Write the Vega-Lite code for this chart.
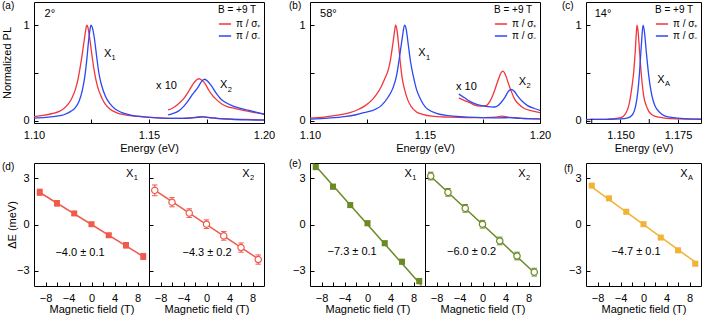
{
"$schema": "https://vega.github.io/schema/vega-lite/v6.json",
"background": "white",
"padding": {"left": 0, "top": 0, "right": 0, "bottom": 0},
"config": {
  "font": "Liberation Sans",
  "view": {"stroke": "black", "strokeWidth": 1},
  "axis": {"domain": false, "grid": false, "tickSize": -4, "tickColor": "black", "tickWidth": 1, "labelFontSize": 11, "labelColor": "black", "titleFontSize": 11, "titleFontWeight": "normal", "titleColor": "black", "labelOverlap": false},
  "axisX": {"labelPadding": 10.5},
  "axisY": {"labelPadding": 9},
  "title": {"fontSize": 10, "fontWeight": "normal", "anchor": "start", "frame": "group", "color": "black"},
  "legend": {"orient": "top-right", "offset": 3, "padding": 0, "titleFontWeight": "normal", "titleFontSize": 10, "labelFontSize": 10, "titleColor": "black", "labelColor": "black", "symbolType": "stroke", "symbolStrokeWidth": 1.5, "symbolSize": 150, "rowPadding": 0, "titlePadding": 2, "labelOffset": 4}
},
"datasets": {
  "sa": [
    {"p":"π / σ₊","k":"m","E":1.100,"I":0.045},{"p":"π / σ₊","k":"m","E":1.104,"I":0.058},{"p":"π / σ₊","k":"m","E":1.108,"I":0.078},{"p":"π / σ₊","k":"m","E":1.111,"I":0.10},{"p":"π / σ₊","k":"m","E":1.113,"I":0.13},{"p":"π / σ₊","k":"m","E":1.115,"I":0.18},{"p":"π / σ₊","k":"m","E":1.1165,"I":0.24},{"p":"π / σ₊","k":"m","E":1.118,"I":0.33},{"p":"π / σ₊","k":"m","E":1.119,"I":0.42},{"p":"π / σ₊","k":"m","E":1.120,"I":0.55},{"p":"π / σ₊","k":"m","E":1.121,"I":0.70},{"p":"π / σ₊","k":"m","E":1.122,"I":0.87},{"p":"π / σ₊","k":"m","E":1.1225,"I":0.95},{"p":"π / σ₊","k":"m","E":1.1229,"I":1.0},{"p":"π / σ₊","k":"m","E":1.1234,"I":0.98},{"p":"π / σ₊","k":"m","E":1.124,"I":0.90},{"p":"π / σ₊","k":"m","E":1.125,"I":0.72},{"p":"π / σ₊","k":"m","E":1.126,"I":0.55},{"p":"π / σ₊","k":"m","E":1.127,"I":0.42},{"p":"π / σ₊","k":"m","E":1.128,"I":0.33},{"p":"π / σ₊","k":"m","E":1.1295,"I":0.24},{"p":"π / σ₊","k":"m","E":1.131,"I":0.175},{"p":"π / σ₊","k":"m","E":1.133,"I":0.125},{"p":"π / σ₊","k":"m","E":1.136,"I":0.085},{"p":"π / σ₊","k":"m","E":1.140,"I":0.062},{"p":"π / σ₊","k":"m","E":1.145,"I":0.047},{"p":"π / σ₊","k":"m","E":1.150,"I":0.037},{"p":"π / σ₊","k":"m","E":1.156,"I":0.030},{"p":"π / σ₊","k":"m","E":1.162,"I":0.027},{"p":"π / σ₊","k":"m","E":1.167,"I":0.030},{"p":"π / σ₊","k":"m","E":1.1705,"I":0.040},{"p":"π / σ₊","k":"m","E":1.1725,"I":0.045},{"p":"π / σ₊","k":"m","E":1.1755,"I":0.038},{"p":"π / σ₊","k":"m","E":1.179,"I":0.028},{"p":"π / σ₊","k":"m","E":1.185,"I":0.020},{"p":"π / σ₊","k":"m","E":1.192,"I":0.016},{"p":"π / σ₊","k":"m","E":1.200,"I":0.012},
    {"p":"π / σ₋","k":"m","E":1.100,"I":0.030},{"p":"π / σ₋","k":"m","E":1.105,"I":0.038},{"p":"π / σ₋","k":"m","E":1.110,"I":0.050},{"p":"π / σ₋","k":"m","E":1.113,"I":0.065},{"p":"π / σ₋","k":"m","E":1.116,"I":0.10},{"p":"π / σ₋","k":"m","E":1.118,"I":0.14},{"p":"π / σ₋","k":"m","E":1.1195,"I":0.20},{"p":"π / σ₋","k":"m","E":1.121,"I":0.32},{"p":"π / σ₋","k":"m","E":1.122,"I":0.45},{"p":"π / σ₋","k":"m","E":1.123,"I":0.65},{"p":"π / σ₋","k":"m","E":1.1238,"I":0.85},{"p":"π / σ₋","k":"m","E":1.1244,"I":0.96},{"p":"π / σ₋","k":"m","E":1.1248,"I":1.0},{"p":"π / σ₋","k":"m","E":1.1254,"I":0.97},{"p":"π / σ₋","k":"m","E":1.1262,"I":0.87},{"p":"π / σ₋","k":"m","E":1.1272,"I":0.68},{"p":"π / σ₋","k":"m","E":1.1282,"I":0.50},{"p":"π / σ₋","k":"m","E":1.1293,"I":0.38},{"p":"π / σ₋","k":"m","E":1.131,"I":0.26},{"p":"π / σ₋","k":"m","E":1.133,"I":0.18},{"p":"π / σ₋","k":"m","E":1.135,"I":0.13},{"p":"π / σ₋","k":"m","E":1.138,"I":0.09},{"p":"π / σ₋","k":"m","E":1.142,"I":0.062},{"p":"π / σ₋","k":"m","E":1.147,"I":0.045},{"p":"π / σ₋","k":"m","E":1.152,"I":0.035},{"p":"π / σ₋","k":"m","E":1.158,"I":0.028},{"p":"π / σ₋","k":"m","E":1.165,"I":0.027},{"p":"π / σ₋","k":"m","E":1.170,"I":0.035},{"p":"π / σ₋","k":"m","E":1.1735,"I":0.042},{"p":"π / σ₋","k":"m","E":1.1765,"I":0.036},{"p":"π / σ₋","k":"m","E":1.180,"I":0.027},{"p":"π / σ₋","k":"m","E":1.186,"I":0.018},{"p":"π / σ₋","k":"m","E":1.193,"I":0.012},{"p":"π / σ₋","k":"m","E":1.200,"I":0.008},
    {"p":"π / σ₊","k":"x","E":1.1583,"I":0.115},{"p":"π / σ₊","k":"x","E":1.160,"I":0.13},{"p":"π / σ₊","k":"x","E":1.1626,"I":0.175},{"p":"π / σ₊","k":"x","E":1.165,"I":0.23},{"p":"π / σ₊","k":"x","E":1.167,"I":0.30},{"p":"π / σ₊","k":"x","E":1.169,"I":0.38},{"p":"π / σ₊","k":"x","E":1.1705,"I":0.425},{"p":"π / σ₊","k":"x","E":1.1717,"I":0.44},{"p":"π / σ₊","k":"x","E":1.173,"I":0.425},{"p":"π / σ₊","k":"x","E":1.1745,"I":0.385},{"p":"π / σ₊","k":"x","E":1.176,"I":0.32},{"p":"π / σ₊","k":"x","E":1.1775,"I":0.27},{"p":"π / σ₊","k":"x","E":1.179,"I":0.23},{"p":"π / σ₊","k":"x","E":1.1815,"I":0.18},{"p":"π / σ₊","k":"x","E":1.184,"I":0.15},{"p":"π / σ₊","k":"x","E":1.1875,"I":0.13},{"p":"π / σ₊","k":"x","E":1.191,"I":0.11},{"p":"π / σ₊","k":"x","E":1.1955,"I":0.09},{"p":"π / σ₊","k":"x","E":1.200,"I":0.073},
    {"p":"π / σ₋","k":"x","E":1.1583,"I":0.063},{"p":"π / σ₋","k":"x","E":1.160,"I":0.075},{"p":"π / σ₋","k":"x","E":1.1626,"I":0.10},{"p":"π / σ₋","k":"x","E":1.165,"I":0.15},{"p":"π / σ₋","k":"x","E":1.167,"I":0.21},{"p":"π / σ₋","k":"x","E":1.169,"I":0.28},{"p":"π / σ₋","k":"x","E":1.1713,"I":0.35},{"p":"π / σ₋","k":"x","E":1.1728,"I":0.41},{"p":"π / σ₋","k":"x","E":1.1742,"I":0.435},{"p":"π / σ₋","k":"x","E":1.1755,"I":0.415},{"p":"π / σ₋","k":"x","E":1.177,"I":0.37},{"p":"π / σ₋","k":"x","E":1.1792,"I":0.29},{"p":"π / σ₋","k":"x","E":1.181,"I":0.235},{"p":"π / σ₋","k":"x","E":1.1828,"I":0.20},{"p":"π / σ₋","k":"x","E":1.1872,"I":0.15},{"p":"π / σ₋","k":"x","E":1.1935,"I":0.11},{"p":"π / σ₋","k":"x","E":1.200,"I":0.07}
  ],
  "sb": [
    {"p":"π / σ₊","k":"m","E":1.100,"I":0.03},{"p":"π / σ₊","k":"m","E":1.106,"I":0.04},{"p":"π / σ₊","k":"m","E":1.112,"I":0.06},{"p":"π / σ₊","k":"m","E":1.117,"I":0.085},{"p":"π / σ₊","k":"m","E":1.121,"I":0.12},{"p":"π / σ₊","k":"m","E":1.124,"I":0.16},{"p":"π / σ₊","k":"m","E":1.127,"I":0.22},{"p":"π / σ₊","k":"m","E":1.129,"I":0.28},{"p":"π / σ₊","k":"m","E":1.131,"I":0.36},{"p":"π / σ₊","k":"m","E":1.1325,"I":0.44},{"p":"π / σ₊","k":"m","E":1.134,"I":0.53},{"p":"π / σ₊","k":"m","E":1.135,"I":0.64},{"p":"π / σ₊","k":"m","E":1.136,"I":0.80},{"p":"π / σ₊","k":"m","E":1.1368,"I":0.94},{"p":"π / σ₊","k":"m","E":1.1372,"I":1.0},{"p":"π / σ₊","k":"m","E":1.1378,"I":0.95},{"p":"π / σ₊","k":"m","E":1.1385,"I":0.80},{"p":"π / σ₊","k":"m","E":1.1393,"I":0.60},{"p":"π / σ₊","k":"m","E":1.140,"I":0.46},{"p":"π / σ₊","k":"m","E":1.141,"I":0.34},{"p":"π / σ₊","k":"m","E":1.1425,"I":0.22},{"p":"π / σ₊","k":"m","E":1.144,"I":0.15},{"p":"π / σ₊","k":"m","E":1.146,"I":0.10},{"p":"π / σ₊","k":"m","E":1.149,"I":0.07},{"p":"π / σ₊","k":"m","E":1.153,"I":0.05},{"p":"π / σ₊","k":"m","E":1.160,"I":0.04},{"p":"π / σ₊","k":"m","E":1.168,"I":0.035},{"p":"π / σ₊","k":"m","E":1.176,"I":0.035},{"p":"π / σ₊","k":"m","E":1.181,"I":0.04},{"p":"π / σ₊","k":"m","E":1.1835,"I":0.05},{"p":"π / σ₊","k":"m","E":1.186,"I":0.04},{"p":"π / σ₊","k":"m","E":1.190,"I":0.03},{"p":"π / σ₊","k":"m","E":1.195,"I":0.025},{"p":"π / σ₊","k":"m","E":1.200,"I":0.022},
    {"p":"π / σ₋","k":"m","E":1.100,"I":0.02},{"p":"π / σ₋","k":"m","E":1.108,"I":0.03},{"p":"π / σ₋","k":"m","E":1.115,"I":0.045},{"p":"π / σ₋","k":"m","E":1.120,"I":0.065},{"p":"π / σ₋","k":"m","E":1.124,"I":0.09},{"p":"π / σ₋","k":"m","E":1.1283,"I":0.12},{"p":"π / σ₋","k":"m","E":1.131,"I":0.16},{"p":"π / σ₋","k":"m","E":1.134,"I":0.25},{"p":"π / σ₋","k":"m","E":1.136,"I":0.34},{"p":"π / σ₋","k":"m","E":1.1377,"I":0.48},{"p":"π / σ₋","k":"m","E":1.139,"I":0.68},{"p":"π / σ₋","k":"m","E":1.1402,"I":0.88},{"p":"π / σ₋","k":"m","E":1.1411,"I":1.0},{"p":"π / σ₋","k":"m","E":1.1418,"I":0.96},{"p":"π / σ₋","k":"m","E":1.1427,"I":0.80},{"p":"π / σ₋","k":"m","E":1.1437,"I":0.62},{"p":"π / σ₋","k":"m","E":1.1449,"I":0.47},{"p":"π / σ₋","k":"m","E":1.1463,"I":0.33},{"p":"π / σ₋","k":"m","E":1.1478,"I":0.24},{"p":"π / σ₋","k":"m","E":1.150,"I":0.15},{"p":"π / σ₋","k":"m","E":1.1514,"I":0.12},{"p":"π / σ₋","k":"m","E":1.155,"I":0.08},{"p":"π / σ₋","k":"m","E":1.160,"I":0.055},{"p":"π / σ₋","k":"m","E":1.167,"I":0.042},{"p":"π / σ₋","k":"m","E":1.175,"I":0.035},{"p":"π / σ₋","k":"m","E":1.182,"I":0.032},{"p":"π / σ₋","k":"m","E":1.187,"I":0.035},{"p":"π / σ₋","k":"m","E":1.192,"I":0.028},{"p":"π / σ₋","k":"m","E":1.200,"I":0.022},
    {"p":"π / σ₊","k":"x","E":1.1647,"I":0.24},{"p":"π / σ₊","k":"x","E":1.167,"I":0.215},{"p":"π / σ₊","k":"x","E":1.1695,"I":0.19},{"p":"π / σ₊","k":"x","E":1.1716,"I":0.165},{"p":"π / σ₊","k":"x","E":1.174,"I":0.155},{"p":"π / σ₊","k":"x","E":1.1765,"I":0.16},{"p":"π / σ₊","k":"x","E":1.1781,"I":0.20},{"p":"π / σ₊","k":"x","E":1.180,"I":0.30},{"p":"π / σ₊","k":"x","E":1.1817,"I":0.42},{"p":"π / σ₊","k":"x","E":1.183,"I":0.50},{"p":"π / σ₊","k":"x","E":1.1838,"I":0.52},{"p":"π / σ₊","k":"x","E":1.185,"I":0.48},{"p":"π / σ₊","k":"x","E":1.186,"I":0.41},{"p":"π / σ₊","k":"x","E":1.1875,"I":0.31},{"p":"π / σ₊","k":"x","E":1.1889,"I":0.23},{"p":"π / σ₊","k":"x","E":1.191,"I":0.17},{"p":"π / σ₊","k":"x","E":1.1932,"I":0.13},{"p":"π / σ₊","k":"x","E":1.1965,"I":0.105},{"p":"π / σ₊","k":"x","E":1.200,"I":0.087},
    {"p":"π / σ₋","k":"x","E":1.1647,"I":0.28},{"p":"π / σ₋","k":"x","E":1.167,"I":0.245},{"p":"π / σ₋","k":"x","E":1.1695,"I":0.205},{"p":"π / σ₋","k":"x","E":1.1716,"I":0.18},{"p":"π / σ₋","k":"x","E":1.1745,"I":0.16},{"p":"π / σ₋","k":"x","E":1.1772,"I":0.15},{"p":"π / σ₋","k":"x","E":1.1795,"I":0.145},{"p":"π / σ₋","k":"x","E":1.181,"I":0.15},{"p":"π / σ₋","k":"x","E":1.183,"I":0.19},{"p":"π / σ₋","k":"x","E":1.1846,"I":0.24},{"p":"π / σ₋","k":"x","E":1.186,"I":0.30},{"p":"π / σ₋","k":"x","E":1.1874,"I":0.33},{"p":"π / σ₋","k":"x","E":1.1888,"I":0.31},{"p":"π / σ₋","k":"x","E":1.1903,"I":0.26},{"p":"π / σ₋","k":"x","E":1.1925,"I":0.20},{"p":"π / σ₋","k":"x","E":1.1946,"I":0.16},{"p":"π / σ₋","k":"x","E":1.1975,"I":0.13},{"p":"π / σ₋","k":"x","E":1.200,"I":0.11}
  ],
  "sc": [
    {"p":"π / σ₊","k":"m","E":1.135,"I":0.015},{"p":"π / σ₊","k":"m","E":1.140,"I":0.017},{"p":"π / σ₊","k":"m","E":1.145,"I":0.020},{"p":"π / σ₊","k":"m","E":1.149,"I":0.030},{"p":"π / σ₊","k":"m","E":1.1507,"I":0.040},{"p":"π / σ₊","k":"m","E":1.152,"I":0.070},{"p":"π / σ₊","k":"m","E":1.1536,"I":0.16},{"p":"π / σ₊","k":"m","E":1.155,"I":0.36},{"p":"π / σ₊","k":"m","E":1.1557,"I":0.50},{"p":"π / σ₊","k":"m","E":1.1564,"I":0.72},{"p":"π / σ₊","k":"m","E":1.1569,"I":0.92},{"p":"π / σ₊","k":"m","E":1.1572,"I":1.0},{"p":"π / σ₊","k":"m","E":1.1577,"I":0.92},{"p":"π / σ₊","k":"m","E":1.1583,"I":0.72},{"p":"π / σ₊","k":"m","E":1.159,"I":0.50},{"p":"π / σ₊","k":"m","E":1.1601,"I":0.26},{"p":"π / σ₊","k":"m","E":1.1612,"I":0.16},{"p":"π / σ₊","k":"m","E":1.1623,"I":0.10},{"p":"π / σ₊","k":"m","E":1.164,"I":0.06},{"p":"π / σ₊","k":"m","E":1.1666,"I":0.04},{"p":"π / σ₊","k":"m","E":1.170,"I":0.028},{"p":"π / σ₊","k":"m","E":1.175,"I":0.022},{"p":"π / σ₊","k":"m","E":1.180,"I":0.020},{"p":"π / σ₊","k":"m","E":1.185,"I":0.018},
    {"p":"π / σ₋","k":"m","E":1.135,"I":0.015},{"p":"π / σ₋","k":"m","E":1.140,"I":0.017},{"p":"π / σ₋","k":"m","E":1.145,"I":0.018},{"p":"π / σ₋","k":"m","E":1.150,"I":0.022},{"p":"π / σ₋","k":"m","E":1.1528,"I":0.030},{"p":"π / σ₋","k":"m","E":1.155,"I":0.060},{"p":"π / σ₋","k":"m","E":1.1567,"I":0.17},{"p":"π / σ₋","k":"m","E":1.1575,"I":0.30},{"p":"π / σ₋","k":"m","E":1.1582,"I":0.48},{"p":"π / σ₋","k":"m","E":1.1587,"I":0.66},{"p":"π / σ₋","k":"m","E":1.1592,"I":0.84},{"p":"π / σ₋","k":"m","E":1.1598,"I":1.0},{"p":"π / σ₋","k":"m","E":1.1604,"I":0.93},{"p":"π / σ₋","k":"m","E":1.1611,"I":0.75},{"p":"π / σ₋","k":"m","E":1.1617,"I":0.60},{"p":"π / σ₋","k":"m","E":1.1623,"I":0.47},{"p":"π / σ₋","k":"m","E":1.163,"I":0.35},{"p":"π / σ₋","k":"m","E":1.1637,"I":0.26},{"p":"π / σ₋","k":"m","E":1.1648,"I":0.17},{"p":"π / σ₋","k":"m","E":1.1659,"I":0.12},{"p":"π / σ₋","k":"m","E":1.168,"I":0.07},{"p":"π / σ₋","k":"m","E":1.1695,"I":0.05},{"p":"π / σ₋","k":"m","E":1.173,"I":0.035},{"p":"π / σ₋","k":"m","E":1.178,"I":0.025},{"p":"π / σ₋","k":"m","E":1.185,"I":0.020}
  ],
  "pd1": [{"B":-9,"v":2.10,"lo":1.90,"hi":2.30},{"B":-6,"v":1.38,"lo":1.20,"hi":1.56},{"B":-3,"v":0.72,"lo":0.60,"hi":0.84},{"B":0,"v":0.02,"lo":-0.08,"hi":0.12},{"B":3,"v":-0.70,"lo":-0.82,"hi":-0.58},{"B":6,"v":-1.35,"lo":-1.53,"hi":-1.17},{"B":9,"v":-2.08,"lo":-2.28,"hi":-1.88}],
  "pd2": [{"B":-9,"v":2.22,"lo":1.87,"hi":2.57},{"B":-6,"v":1.45,"lo":1.15,"hi":1.75},{"B":-3,"v":0.74,"lo":0.46,"hi":1.02},{"B":0,"v":0.02,"lo":-0.26,"hi":0.30},{"B":3,"v":-0.74,"lo":-1.02,"hi":-0.46},{"B":6,"v":-1.50,"lo":-1.80,"hi":-1.20},{"B":9,"v":-2.28,"lo":-2.58,"hi":-1.98}],
  "pe1": [{"B":-9,"v":3.73,"lo":3.58,"hi":3.88},{"B":-6,"v":2.46,"lo":2.31,"hi":2.61},{"B":-3,"v":1.26,"lo":1.11,"hi":1.41},{"B":0,"v":0.08,"lo":-0.07,"hi":0.23},{"B":3,"v":-1.22,"lo":-1.37,"hi":-1.07},{"B":6,"v":-2.42,"lo":-2.57,"hi":-2.27},{"B":9,"v":-3.68,"lo":-3.85,"hi":-3.51}],
  "pe2": [{"B":-9,"v":3.15,"lo":2.90,"hi":3.40},{"B":-6,"v":2.09,"lo":1.84,"hi":2.34},{"B":-3,"v":1.05,"lo":0.80,"hi":1.30},{"B":0,"v":0.02,"lo":-0.23,"hi":0.27},{"B":3,"v":-1.07,"lo":-1.32,"hi":-0.82},{"B":6,"v":-2.05,"lo":-2.30,"hi":-1.80},{"B":9,"v":-3.10,"lo":-3.35,"hi":-2.85}],
  "pf": [{"B":-9,"v":2.53,"lo":2.40,"hi":2.66},{"B":-6,"v":1.70,"lo":1.57,"hi":1.83},{"B":-3,"v":0.83,"lo":0.70,"hi":0.96},{"B":0,"v":0.02,"lo":-0.10,"hi":0.14},{"B":3,"v":-0.85,"lo":-0.97,"hi":-0.73},{"B":6,"v":-1.68,"lo":-1.81,"hi":-1.55},{"B":9,"v":-2.55,"lo":-2.68,"hi":-2.42}],
  "fd1": [{"B":-9.2,"v":2.13},{"B":9.2,"v":-2.13}],
  "fd2": [{"B":-9.2,"v":2.29},{"B":9.2,"v":-2.29}],
  "fe1": [{"B":-9.4,"v":3.97},{"B":9.4,"v":-3.97}],
  "fe2": [{"B":-9.2,"v":3.20},{"B":9.2,"v":-3.20}],
  "ff": [{"B":-9.2,"v":2.50},{"B":9.2,"v":-2.50}]
},
"vconcat": [
  {
    "hconcat": [
      {
        "width": 230, "height": 121,
        "title": {"text": "(a)", "dx": -32, "offset": -9},
        "layer": [
          {"data": {"name": "sa"}, "mark": {"type": "line", "strokeWidth": 1.3, "clip": true, "interpolate": "monotone"},
           "encoding": {
             "x": {"field": "E", "type": "quantitative", "scale": {"domain": [1.1, 1.2], "nice": false, "zero": false}, "axis": {"title": "Energy (eV)", "values": [1.1, 1.125, 1.15, 1.175, 1.2], "format": ".3f", "labelExpr": "datum.label == '1.100' ? '1.10' : datum.label == '1.150' ? '1.15' : datum.label == '1.200' ? '1.20' : ''", "labelFlush": false, "labelOverlap": false, "titleY": 19, "titleBaseline": "top"}},
             "y": {"field": "I", "type": "quantitative", "scale": {"domain": [-0.021, 1.24], "nice": false, "zero": false}, "axis": {"title": "Normalized PL", "values": [0, 0.5, 1], "labelExpr": "datum.value === 0.5 ? '' : format(datum.value, 'd')", "titleX": -24, "titleBaseline": "alphabetic"}},
             "color": {"field": "p", "type": "nominal", "scale": {"domain": ["π / σ₊", "π / σ₋"], "range": ["#F2373B", "#2B48F5"]}, "legend": {"title": "B =  +9 T"}},
             "detail": {"field": "k"}
           }},
          {"data": {"values": [{"x": 1.1069, "y": 1.12, "t": "2°"}, {"x": 1.132, "y": 0.70, "t": "X"}, {"x": 1.1576, "y": 0.36, "t": "x 10"}, {"x": 1.1825, "y": 0.375, "t": "X"}]},
           "mark": {"type": "text", "fontSize": 11, "align": "center", "baseline": "middle", "color": "black"},
           "encoding": {"x": {"field": "x", "type": "quantitative"}, "y": {"field": "y", "type": "quantitative"}, "text": {"field": "t"}}},
          {"data": {"values": [{"x": 1.132, "y": 0.70, "s": "1"}, {"x": 1.1825, "y": 0.375, "s": "2"}]},
           "mark": {"type": "text", "fontSize": 7.5, "align": "left", "baseline": "middle", "dx": 4, "dy": 4.5, "color": "black"},
           "encoding": {"x": {"field": "x", "type": "quantitative"}, "y": {"field": "y", "type": "quantitative"}, "text": {"field": "s"}}}
        ]
      },
      {
        "width": 230, "height": 121,
        "title": {"text": "(b)", "dx": -21, "offset": -9},
        "layer": [
          {"data": {"name": "sb"}, "mark": {"type": "line", "strokeWidth": 1.3, "clip": true, "interpolate": "monotone"},
           "encoding": {
             "x": {"field": "E", "type": "quantitative", "scale": {"domain": [1.1, 1.2], "nice": false, "zero": false}, "axis": {"title": "Energy (eV)", "values": [1.1, 1.125, 1.15, 1.175, 1.2], "format": ".3f", "labelExpr": "datum.label == '1.100' ? '1.10' : datum.label == '1.150' ? '1.15' : datum.label == '1.200' ? '1.20' : ''", "labelFlush": false, "labelOverlap": false, "titleY": 19, "titleBaseline": "top"}},
             "y": {"field": "I", "type": "quantitative", "scale": {"domain": [-0.021, 1.24], "nice": false, "zero": false}, "axis": {"title": null, "values": [0, 0.5, 1], "labelExpr": "datum.value === 0.5 ? '' : format(datum.value, 'd')"}},
             "color": {"field": "p", "type": "nominal", "scale": {"domain": ["π / σ₊", "π / σ₋"], "range": ["#F2373B", "#2B48F5"]}, "legend": {"title": "B =  +9 T"}},
             "detail": {"field": "k"}
           }},
          {"data": {"values": [{"x": 1.108, "y": 1.115, "t": "58°"}, {"x": 1.1487, "y": 0.705, "t": "X"}, {"x": 1.168, "y": 0.357, "t": "x 10"}, {"x": 1.1924, "y": 0.41, "t": "X"}]},
           "mark": {"type": "text", "fontSize": 11, "align": "center", "baseline": "middle", "color": "black"},
           "encoding": {"x": {"field": "x", "type": "quantitative"}, "y": {"field": "y", "type": "quantitative"}, "text": {"field": "t"}}},
          {"data": {"values": [{"x": 1.1487, "y": 0.705, "s": "1"}, {"x": 1.1924, "y": 0.41, "s": "2"}]},
           "mark": {"type": "text", "fontSize": 7.5, "align": "left", "baseline": "middle", "dx": 4, "dy": 4.5, "color": "black"},
           "encoding": {"x": {"field": "x", "type": "quantitative"}, "y": {"field": "y", "type": "quantitative"}, "text": {"field": "s"}}}
        ]
      },
      {
        "width": 115, "height": 121,
        "title": {"text": "(c)", "dx": -24, "offset": -9},
        "layer": [
          {"data": {"name": "sc"}, "mark": {"type": "line", "strokeWidth": 1.3, "clip": true, "interpolate": "monotone"},
           "encoding": {
             "x": {"field": "E", "type": "quantitative", "scale": {"domain": [1.135, 1.185], "nice": false, "zero": false}, "axis": {"title": "Energy (eV)", "values": [1.15, 1.175], "format": ".3f", "labelFlush": false, "labelOverlap": false, "titleY": 19, "titleBaseline": "top"}},
             "y": {"field": "I", "type": "quantitative", "scale": {"domain": [-0.021, 1.24], "nice": false, "zero": false}, "axis": {"title": null, "values": [0, 0.5, 1], "labelExpr": "datum.value === 0.5 ? '' : format(datum.value, 'd')"}},
             "color": {"field": "p", "type": "nominal", "scale": {"domain": ["π / σ₊", "π / σ₋"], "range": ["#F2373B", "#2B48F5"]}, "legend": {"title": "B =  +9 T"}},
             "detail": {"field": "k"}
           }},
          {"data": {"values": [{"E": 1.1375}, {"E": 1.1625}]},
           "mark": {"type": "rule", "color": "black", "strokeWidth": 1},
           "encoding": {"x": {"field": "E", "type": "quantitative"}, "y": {"datum": -0.021}, "y2": {"datum": 0.0207}}},
          {"data": {"values": [{"x": 1.1424, "y": 1.115, "t": "14°"}, {"x": 1.1676, "y": 0.43, "t": "X"}]},
           "mark": {"type": "text", "fontSize": 11, "align": "center", "baseline": "middle", "color": "black"},
           "encoding": {"x": {"field": "x", "type": "quantitative"}, "y": {"field": "y", "type": "quantitative"}, "text": {"field": "t"}}},
          {"data": {"values": [{"x": 1.1676, "y": 0.43, "s": "A"}]},
           "mark": {"type": "text", "fontSize": 7.5, "align": "left", "baseline": "middle", "dx": 4, "dy": 4.5, "color": "black"},
           "encoding": {"x": {"field": "x", "type": "quantitative"}, "y": {"field": "y", "type": "quantitative"}, "text": {"field": "s"}}}
        ]
      }
    ],
    "spacing": 46,
    "bounds": "flush",
    "resolve": {"scale": {"color": "independent"}, "legend": {"color": "independent"}}
  },
  {
    "hconcat": [
      {
        "width": 115, "height": 123,
        "title": {"text": "(d)", "dx": -32, "offset": -9},
        "encoding": {
          "x": {"field": "B", "type": "quantitative", "title": "Magnetic field (T)", "scale": {"domain": [-10, 10], "nice": false}, "axis": {"values": [-8, -6, -4, -2, 0, 2, 4, 6, 8], "labelExpr": "datum.value % 4 === 0 ? format(datum.value, 'd') : ''", "labelFlush": false, "labelPadding": 10, "titleY": 17, "titleBaseline": "top"}}
        },
        "layer": [
          {"data": {"name": "fd1"}, "mark": {"type": "line", "color": "#EF5A4C", "strokeWidth": 1.5},
           "encoding": {"y": {"field": "v", "type": "quantitative", "title": "ΔE (meV)", "scale": {"domain": [-4, 4], "nice": false}, "axis": {"values": [-3, 0, 3], "format": "d", "titleX": -19, "titleBaseline": "alphabetic"}}}},
          {"data": {"name": "pd1"}, "mark": {"type": "rule", "color": "#EF5A4C", "strokeWidth": 1},
           "encoding": {"y": {"field": "lo", "type": "quantitative", "title": "ΔE (meV)"}, "y2": {"field": "hi"}}},
          {"data": {"name": "pd1"}, "mark": {"type": "point", "shape": "M-1,0L1,0", "size": 30, "filled": false, "color": "#EF5A4C", "strokeWidth": 1, "opacity": 1},
           "encoding": {"y": {"field": "lo", "type": "quantitative", "title": "ΔE (meV)"}}},
          {"data": {"name": "pd1"}, "mark": {"type": "point", "shape": "M-1,0L1,0", "size": 30, "filled": false, "color": "#EF5A4C", "strokeWidth": 1, "opacity": 1},
           "encoding": {"y": {"field": "hi", "type": "quantitative", "title": "ΔE (meV)"}}},
          {"data": {"name": "pd1"}, "mark": {"type": "point", "shape": "square", "filled": true, "color": "#EF5A4C", "size": 36, "opacity": 1},
           "encoding": {"y": {"field": "v", "type": "quantitative", "title": "ΔE (meV)"}}},
          {"data": {"values": [{"B": 6.64, "v": 3.31, "t": "X"}, {"B": -2.0, "v": -1.84, "t": "−4.0 ± 0.1"}]},
           "mark": {"type": "text", "fontSize": 11, "align": "center", "baseline": "middle", "color": "black"},
           "encoding": {"y": {"field": "v", "type": "quantitative", "title": "ΔE (meV)"}, "text": {"field": "t"}}},
          {"data": {"values": [{"B": 6.64, "v": 3.31, "s": "1"}]},
           "mark": {"type": "text", "fontSize": 7.5, "align": "left", "baseline": "middle", "dx": 4, "dy": 4.5, "color": "black"},
           "encoding": {"y": {"field": "v", "type": "quantitative", "title": "ΔE (meV)"}, "text": {"field": "s"}}}
        ]
      },
      {
        "width": 115, "height": 123,
        "encoding": {
          "x": {"field": "B", "type": "quantitative", "title": "Magnetic field (T)", "scale": {"domain": [-10, 10], "nice": false}, "axis": {"values": [-8, -6, -4, -2, 0, 2, 4, 6, 8], "labelExpr": "datum.value % 4 === 0 ? format(datum.value, 'd') : ''", "labelFlush": false, "labelPadding": 10, "titleY": 17, "titleBaseline": "top"}}
        },
        "layer": [
          {"data": {"name": "fd2"}, "mark": {"type": "line", "color": "#EF5A4C", "strokeWidth": 1.5},
           "encoding": {"y": {"field": "v", "type": "quantitative", "title": null, "scale": {"domain": [-4, 4], "nice": false}, "axis": {"values": [-3, 0, 3], "labels": false}}}},
          {"data": {"name": "pd2"}, "mark": {"type": "rule", "color": "#EF5A4C", "strokeWidth": 1},
           "encoding": {"y": {"field": "lo", "type": "quantitative", "title": null}, "y2": {"field": "hi"}}},
          {"data": {"name": "pd2"}, "mark": {"type": "point", "shape": "M-1,0L1,0", "size": 30, "filled": false, "color": "#EF5A4C", "strokeWidth": 1, "opacity": 1},
           "encoding": {"y": {"field": "lo", "type": "quantitative", "title": null}}},
          {"data": {"name": "pd2"}, "mark": {"type": "point", "shape": "M-1,0L1,0", "size": 30, "filled": false, "color": "#EF5A4C", "strokeWidth": 1, "opacity": 1},
           "encoding": {"y": {"field": "hi", "type": "quantitative", "title": null}}},
          {"data": {"name": "pd2"}, "mark": {"type": "point", "shape": "circle", "filled": true, "fill": "white", "stroke": "#EF5A4C", "strokeWidth": 1.2, "size": 40, "opacity": 1},
           "encoding": {"y": {"field": "v", "type": "quantitative", "title": null}}},
          {"data": {"values": [{"B": 6.87, "v": 3.31, "t": "X"}, {"B": 0.1, "v": -1.84, "t": "−4.3 ± 0.2"}]},
           "mark": {"type": "text", "fontSize": 11, "align": "center", "baseline": "middle", "color": "black"},
           "encoding": {"y": {"field": "v", "type": "quantitative", "title": null}, "text": {"field": "t"}}},
          {"data": {"values": [{"B": 6.87, "v": 3.31, "s": "2"}]},
           "mark": {"type": "text", "fontSize": 7.5, "align": "left", "baseline": "middle", "dx": 4, "dy": 4.5, "color": "black"},
           "encoding": {"y": {"field": "v", "type": "quantitative", "title": null}, "text": {"field": "s"}}}
        ]
      },
      {"width": 46, "height": 123, "data": {"values": []}, "mark": "point", "view": {"stroke": null}},
      {
        "width": 115, "height": 123,
        "title": {"text": "(e)", "dx": -21, "offset": -9},
        "encoding": {
          "x": {"field": "B", "type": "quantitative", "title": "Magnetic field (T)", "scale": {"domain": [-10, 10], "nice": false}, "axis": {"values": [-8, -6, -4, -2, 0, 2, 4, 6, 8], "labelExpr": "datum.value % 4 === 0 ? format(datum.value, 'd') : ''", "labelFlush": false, "labelPadding": 10, "titleY": 17, "titleBaseline": "top"}}
        },
        "layer": [
          {"data": {"name": "fe1"}, "mark": {"type": "line", "color": "#6A8A25", "strokeWidth": 1.5},
           "encoding": {"y": {"field": "v", "type": "quantitative", "title": null, "scale": {"domain": [-4, 4], "nice": false}, "axis": {"values": [-3, 0, 3], "format": "d"}}}},
          {"data": {"name": "pe1"}, "mark": {"type": "rule", "color": "#6A8A25", "strokeWidth": 1},
           "encoding": {"y": {"field": "lo", "type": "quantitative", "title": null}, "y2": {"field": "hi"}}},
          {"data": {"name": "pe1"}, "mark": {"type": "point", "shape": "M-1,0L1,0", "size": 30, "filled": false, "color": "#6A8A25", "strokeWidth": 1, "opacity": 1},
           "encoding": {"y": {"field": "lo", "type": "quantitative", "title": null}}},
          {"data": {"name": "pe1"}, "mark": {"type": "point", "shape": "M-1,0L1,0", "size": 30, "filled": false, "color": "#6A8A25", "strokeWidth": 1, "opacity": 1},
           "encoding": {"y": {"field": "hi", "type": "quantitative", "title": null}}},
          {"data": {"name": "pe1"}, "mark": {"type": "point", "shape": "square", "filled": true, "color": "#6A8A25", "size": 36, "opacity": 1},
           "encoding": {"y": {"field": "v", "type": "quantitative", "title": null}}},
          {"data": {"values": [{"B": 7.07, "v": 3.29, "t": "X"}, {"B": -2.67, "v": -1.79, "t": "−7.3 ± 0.1"}]},
           "mark": {"type": "text", "fontSize": 11, "align": "center", "baseline": "middle", "color": "black"},
           "encoding": {"y": {"field": "v", "type": "quantitative", "title": null}, "text": {"field": "t"}}},
          {"data": {"values": [{"B": 7.07, "v": 3.29, "s": "1"}]},
           "mark": {"type": "text", "fontSize": 7.5, "align": "left", "baseline": "middle", "dx": 4, "dy": 4.5, "color": "black"},
           "encoding": {"y": {"field": "v", "type": "quantitative", "title": null}, "text": {"field": "s"}}}
        ]
      },
      {
        "width": 115, "height": 123,
        "encoding": {
          "x": {"field": "B", "type": "quantitative", "title": "Magnetic field (T)", "scale": {"domain": [-10, 10], "nice": false}, "axis": {"values": [-8, -6, -4, -2, 0, 2, 4, 6, 8], "labelExpr": "datum.value % 4 === 0 ? format(datum.value, 'd') : ''", "labelFlush": false, "labelPadding": 10, "titleY": 17, "titleBaseline": "top"}}
        },
        "layer": [
          {"data": {"name": "fe2"}, "mark": {"type": "line", "color": "#6A8A25", "strokeWidth": 1.5},
           "encoding": {"y": {"field": "v", "type": "quantitative", "title": null, "scale": {"domain": [-4, 4], "nice": false}, "axis": {"values": [-3, 0, 3], "labels": false}}}},
          {"data": {"name": "pe2"}, "mark": {"type": "rule", "color": "#6A8A25", "strokeWidth": 1},
           "encoding": {"y": {"field": "lo", "type": "quantitative", "title": null}, "y2": {"field": "hi"}}},
          {"data": {"name": "pe2"}, "mark": {"type": "point", "shape": "M-1,0L1,0", "size": 30, "filled": false, "color": "#6A8A25", "strokeWidth": 1, "opacity": 1},
           "encoding": {"y": {"field": "lo", "type": "quantitative", "title": null}}},
          {"data": {"name": "pe2"}, "mark": {"type": "point", "shape": "M-1,0L1,0", "size": 30, "filled": false, "color": "#6A8A25", "strokeWidth": 1, "opacity": 1},
           "encoding": {"y": {"field": "hi", "type": "quantitative", "title": null}}},
          {"data": {"name": "pe2"}, "mark": {"type": "point", "shape": "circle", "filled": true, "fill": "white", "stroke": "#6A8A25", "strokeWidth": 1.2, "size": 40, "opacity": 1},
           "encoding": {"y": {"field": "v", "type": "quantitative", "title": null}}},
          {"data": {"values": [{"B": 6.87, "v": 3.29, "t": "X"}, {"B": -1.9, "v": -1.79, "t": "−6.0 ± 0.2"}]},
           "mark": {"type": "text", "fontSize": 11, "align": "center", "baseline": "middle", "color": "black"},
           "encoding": {"y": {"field": "v", "type": "quantitative", "title": null}, "text": {"field": "t"}}},
          {"data": {"values": [{"B": 6.87, "v": 3.29, "s": "2"}]},
           "mark": {"type": "text", "fontSize": 7.5, "align": "left", "baseline": "middle", "dx": 4, "dy": 4.5, "color": "black"},
           "encoding": {"y": {"field": "v", "type": "quantitative", "title": null}, "text": {"field": "s"}}}
        ]
      },
      {"width": 46, "height": 123, "data": {"values": []}, "mark": "point", "view": {"stroke": null}},
      {
        "width": 115, "height": 123,
        "title": {"text": "(f)", "dx": -22, "offset": -10.5},
        "encoding": {
          "x": {"field": "B", "type": "quantitative", "title": "Magnetic field (T)", "scale": {"domain": [-10, 10], "nice": false}, "axis": {"values": [-8, -6, -4, -2, 0, 2, 4, 6, 8], "labelExpr": "datum.value % 4 === 0 ? format(datum.value, 'd') : ''", "labelFlush": false, "labelPadding": 10, "titleY": 17, "titleBaseline": "top"}}
        },
        "layer": [
          {"data": {"name": "ff"}, "mark": {"type": "line", "color": "#F2B233", "strokeWidth": 1.5},
           "encoding": {"y": {"field": "v", "type": "quantitative", "title": null, "scale": {"domain": [-4, 4], "nice": false}, "axis": {"values": [-3, 0, 3], "format": "d"}}}},
          {"data": {"name": "pf"}, "mark": {"type": "rule", "color": "#F2B233", "strokeWidth": 1},
           "encoding": {"y": {"field": "lo", "type": "quantitative", "title": null}, "y2": {"field": "hi"}}},
          {"data": {"name": "pf"}, "mark": {"type": "point", "shape": "M-1,0L1,0", "size": 30, "filled": false, "color": "#F2B233", "strokeWidth": 1, "opacity": 1},
           "encoding": {"y": {"field": "lo", "type": "quantitative", "title": null}}},
          {"data": {"name": "pf"}, "mark": {"type": "point", "shape": "M-1,0L1,0", "size": 30, "filled": false, "color": "#F2B233", "strokeWidth": 1, "opacity": 1},
           "encoding": {"y": {"field": "hi", "type": "quantitative", "title": null}}},
          {"data": {"name": "pf"}, "mark": {"type": "point", "shape": "square", "filled": true, "color": "#F2B233", "size": 36, "opacity": 1},
           "encoding": {"y": {"field": "v", "type": "quantitative", "title": null}}},
          {"data": {"values": [{"B": 7.04, "v": 3.3, "t": "X"}, {"B": -1.3, "v": -1.79, "t": "−4.7 ± 0.1"}]},
           "mark": {"type": "text", "fontSize": 11, "align": "center", "baseline": "middle", "color": "black"},
           "encoding": {"y": {"field": "v", "type": "quantitative", "title": null}, "text": {"field": "t"}}},
          {"data": {"values": [{"B": 7.04, "v": 3.3, "s": "A"}]},
           "mark": {"type": "text", "fontSize": 7.5, "align": "left", "baseline": "middle", "dx": 4, "dy": 4.5, "color": "black"},
           "encoding": {"y": {"field": "v", "type": "quantitative", "title": null}, "text": {"field": "s"}}}
        ]
      }
    ],
    "spacing": 0,
    "bounds": "flush"
  }
],
"spacing": 4,
"bounds": "full"
}
